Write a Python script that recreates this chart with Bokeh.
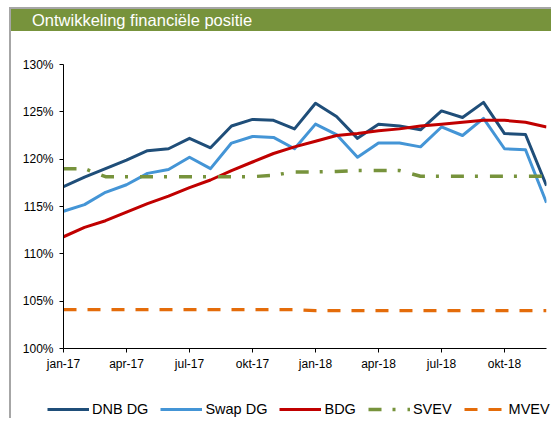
from bokeh.plotting import figure
from bokeh.models import Range1d, FixedTicker, PrintfTickFormatter, Legend, LegendItem, Div
from bokeh.layouts import column, row
from bokeh.embed import file_html
from bokeh.resources import INLINE

title_text = "Ontwikkeling financiële positie"

months = ["jan-17", "feb-17", "mrt-17", "apr-17", "mei-17", "jun-17",
          "jul-17", "aug-17", "sep-17", "okt-17", "nov-17", "dec-17",
          "jan-18", "feb-18", "mrt-18", "apr-18", "mei-18", "jun-18",
          "jul-18", "aug-18", "sep-18", "okt-18", "nov-18", "dec-18"]
tick_labels = ["jan-17", "apr-17", "jul-17", "okt-17", "jan-18", "apr-18", "jul-18", "okt-18"]
y_ticks = [100, 105, 110, 115, 120, 125, 130]

dnb_dg = [117.1, 118.1, 119.0, 119.9, 120.9, 121.1, 122.2, 121.2, 123.5, 124.2, 124.1, 123.2,
          125.9, 124.5, 122.2, 123.7, 123.5, 123.1, 125.1, 124.4, 126.0, 122.7, 122.6, 117.2]
swap_dg = [114.5, 115.2, 116.5, 117.3, 118.5, 118.9, 120.2, 119.0, 121.7, 122.4, 122.3, 121.1,
           123.7, 122.6, 120.2, 121.7, 121.7, 121.3, 123.4, 122.5, 124.3, 121.1, 121.0, 115.4]
bdg = [111.8, 112.8, 113.5, 114.4, 115.3, 116.1, 117.0, 117.8, 118.8, 119.7, 120.6, 121.3,
       121.9, 122.5, 122.7, 123.0, 123.2, 123.5, 123.7, 123.9, 124.1, 124.1, 123.9, 123.4]
svev = [119.0, 119.0, 118.15, 118.15, 118.15, 118.15, 118.15, 118.15, 118.15, 118.15, 118.3, 118.65,
        118.65, 118.7, 118.8, 118.8, 118.8, 118.2, 118.2, 118.2, 118.2, 118.2, 118.2, 118.2]
mvev = [104.1, 104.1, 104.1, 104.1, 104.1, 104.1, 104.1, 104.1, 104.1, 104.1, 104.1, 104.1,
        104.0, 104.0, 104.0, 104.0, 104.0, 104.0, 104.0, 104.0, 104.0, 104.0, 104.0, 104.0]
series_names = ["DNB DG", "Swap DG", "BDG", "SVEV", "MVEV"]

x = list(range(len(months)))
FONT = "Liberation Sans"
GRAY = "#A6A6A6"
GREEN = "#77933C"
styles = [
    dict(line_color="#1F4E79", line_width=3, line_join="round"),
    dict(line_color="#4495D6", line_width=3, line_join="round"),
    dict(line_color="#C00000", line_width=3, line_join="round"),
    dict(line_color=GREEN, line_width=3.5, line_dash="13 11 3 12", line_join="round"),
    dict(line_color="#E46C0A", line_width=3.2, line_dash="13 11"),
]
values = [dnb_dg, swap_dg, bdg, svev, mvev]

# ---------- main chart ----------
p = figure(width=540, height=365,
           x_range=Range1d(0, len(months) - 1), y_range=Range1d(100, 130),
           output_backend="svg", toolbar_location=None,
           min_border_left=52, min_border_right=5, min_border_top=33, min_border_bottom=48)
p.outline_line_color = None
p.xgrid.visible = False
p.ygrid.visible = False

for vals, st in zip(values, styles):
    p.line(x, vals, **st)

tick_pos = [months.index(t) for t in tick_labels]
p.xaxis.ticker = FixedTicker(ticks=tick_pos)
p.xaxis.major_label_overrides = {pos: lbl for pos, lbl in zip(tick_pos, tick_labels)}
p.yaxis.ticker = FixedTicker(ticks=y_ticks)
p.yaxis.formatter = PrintfTickFormatter(format="%d%%")

for ax in (p.xaxis[0], p.yaxis[0]):
    ax.axis_line_color = "black"
    ax.axis_line_width = 1
    ax.major_tick_line_color = "black"
    ax.major_tick_in = 0
    ax.major_tick_out = 4
    ax.minor_tick_in = 0
    ax.minor_tick_out = 0
    ax.major_label_text_font = FONT
    ax.major_label_text_font_size = "12px"
    ax.major_label_text_color = "black"
p.yaxis.major_label_standoff = 6
p.xaxis.major_label_standoff = 4

# ---------- legend strip (its lines lie outside its range, only the legend shows) ----------
lf = figure(width=540, height=22, x_range=Range1d(0, 1), y_range=Range1d(0, 1),
            output_backend="svg", toolbar_location=None,
            x_axis_location=None, y_axis_location=None,
            min_border_left=0, min_border_right=0, min_border_top=0, min_border_bottom=0)
lf.outline_line_color = None
lf.xgrid.visible = False
lf.ygrid.visible = False
items = []
for name, vals, st in zip(series_names, values, styles):
    r = lf.line(x, vals, **st)
    items.append(LegendItem(label=name, renderers=[r]))

legend = Legend(items=items, orientation="horizontal", location=(36, 1),
                label_text_font=FONT, label_text_font_size="14.5px", label_text_color="black",
                glyph_width=42, glyph_height=14, label_height=14, label_standoff=3, spacing=12,
                padding=0, margin=0, border_line_color=None, background_fill_alpha=0)
lf.add_layout(legend)

# ---------- title bar ----------
title_div = Div(
    text='<div style="margin:0;padding-left:21px;line-height:22px;height:22px;white-space:nowrap;overflow:hidden;">'
         + title_text + '</div>',
    width=540, height=22, margin=0,
    styles={"background-color": GREEN, "color": "white", "overflow": "hidden",
            "font-family": FONT, "font-size": "16.5px"})

layout = column(title_div, row(p), row(lf), margin=(7, 0, 0, 9),
                styles={"border-left": "2px solid " + GRAY, "border-top": "2px solid " + GRAY})

open("out.html", "w").write(file_html(layout, INLINE))
